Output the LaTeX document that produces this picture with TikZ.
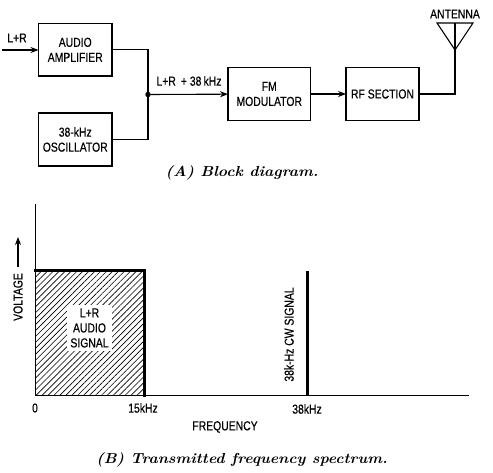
\documentclass[tikz,border=0pt]{standalone}
\usepackage{fontspec}
\newfontfamily\diagfont[FakeStretch=0.8,FakeBold=0.4]{Liberation Sans}
\usetikzlibrary{arrows.meta, positioning, patterns.meta}

\begin{document}
\begin{tikzpicture}[
        % styles
        x=1pt, y=-1pt,
        >={Stealth[length=8pt,width=6pt]},
        block/.style={
            draw, rectangle, minimum height=53pt, line width=1.1pt,
            align=center, outer sep=0pt, inner sep=0pt
        },
        wire/.style={line width=1.1pt},
        arrow/.style={->, line width=1.1pt},
        dot/.style={circle, fill=black, inner sep=0pt, minimum size=5.5pt},
        tag/.style={font=\diagfont\fontsize{13}{15}\selectfont, align=center, inner sep=0pt},
        caption/.style={font=\bfseries\itshape\fontsize{14.5}{17}\selectfont, inner sep=0pt, xscale=1.08, transform shape},
        axis/.style={line width=0.9pt},
        peak/.style={line width=3pt},
        hatch/.style={pattern={Lines[angle=45,distance=4.2pt,line width=0.65pt]}}
    ]
    \useasboundingbox (0,0) rectangle (493,473);

    % (A) block diagram
    \coordinate (input) at (2,50);
    \node (amp) [block, tag, draw, minimum width=73.5pt, minimum height=52.5pt, anchor=north west] at (38.5,23.5) {AUDIO\\AMPLIFIER};
    \node (osc) [block, tag, draw, minimum width=73.5pt, below=37pt of amp] {38-kHz\\OSCILLATOR};
    \node (fm) [block, tag, draw, minimum width=82.5pt, anchor=north west] at (228,67.5) {FM\\MODULATOR};
    \node (rf) [block, tag, draw, minimum width=73pt, right=35.5pt of fm] {RF SECTION};
    \node (junction) [dot] at (148,94.5) {};

    \node (lr) [tag] at (17,38) {L+R};
    \node (mix) [tag] at (189,81) {L+R \,+ 38\,kHz};
    \node (antlabel) [tag] at (455,14) {ANTENNA};

    % antenna
    \coordinate (anttop) at (455,23);
    \coordinate (apex) at (455,50);
    \draw[wire, line join=miter] (437,23) -- (473,23) -- (apex) -- cycle;
    \draw[wire] (anttop) -- (apex);

    % connectors
    \draw[arrow] (input) -- (amp.west |- input);
    \draw[wire] (amp.east) -| (junction);
    \draw[wire] (osc.east) -| (junction);
    \draw[arrow] (junction) -- (fm);
    \draw[arrow] (fm) -- (rf);
    \draw[wire] (rf.east) -| (apex);

    \node (capa) [caption] at (242,173) {(A) Block diagram.};

    % (B) spectrum
    \coordinate (origin) at (35.5,395);
    \coordinate (ytop) at (35.5,204);
    \coordinate (xend) at (469,395);
    \coordinate (bandtop) at (35.5,271);
    \coordinate (bandcorner) at (144.5,271);
    \coordinate (bandfoot) at (144.5,395);
    \coordinate (peaktop) at (307.5,271);
    \coordinate (peakfoot) at (307.5,395);

    \fill[hatch] (bandtop) rectangle (bandfoot);
    \draw[axis] (ytop) -- (origin) -- (xend);
    \draw[peak, line cap=rect] (bandtop) -- (bandcorner) -- (bandfoot);
    \draw[peak] (peaktop) -- (peakfoot);

    \node (audio) [tag, fill=white, minimum width=45pt, minimum height=45pt] at (89.5,328) {L+R\\AUDIO\\SIGNAL};
    \node (volt) [tag, rotate=90] at (18,297) {VOLTAGE};
    \coordinate (vfoot) at (18,267);
    \coordinate (vtip) at (18,237);
    \draw[arrow] (vfoot) -- (vtip);
    \node (cw) [tag, rotate=90] at (289,334.5) {38k-Hz CW SIGNAL};

    \node (zero) [tag] at (35,408) {0};
    \node (fifteen) [tag] at (143,408) {15kHz};
    \node (thirtyeight) [tag] at (307,409) {38kHz};
    \node (freq) [tag] at (225,427) {FREQUENCY};

    \node (capb) [caption] at (242,460) {(B) Transmitted frequency spectrum.};

\end{tikzpicture}
\end{document}
